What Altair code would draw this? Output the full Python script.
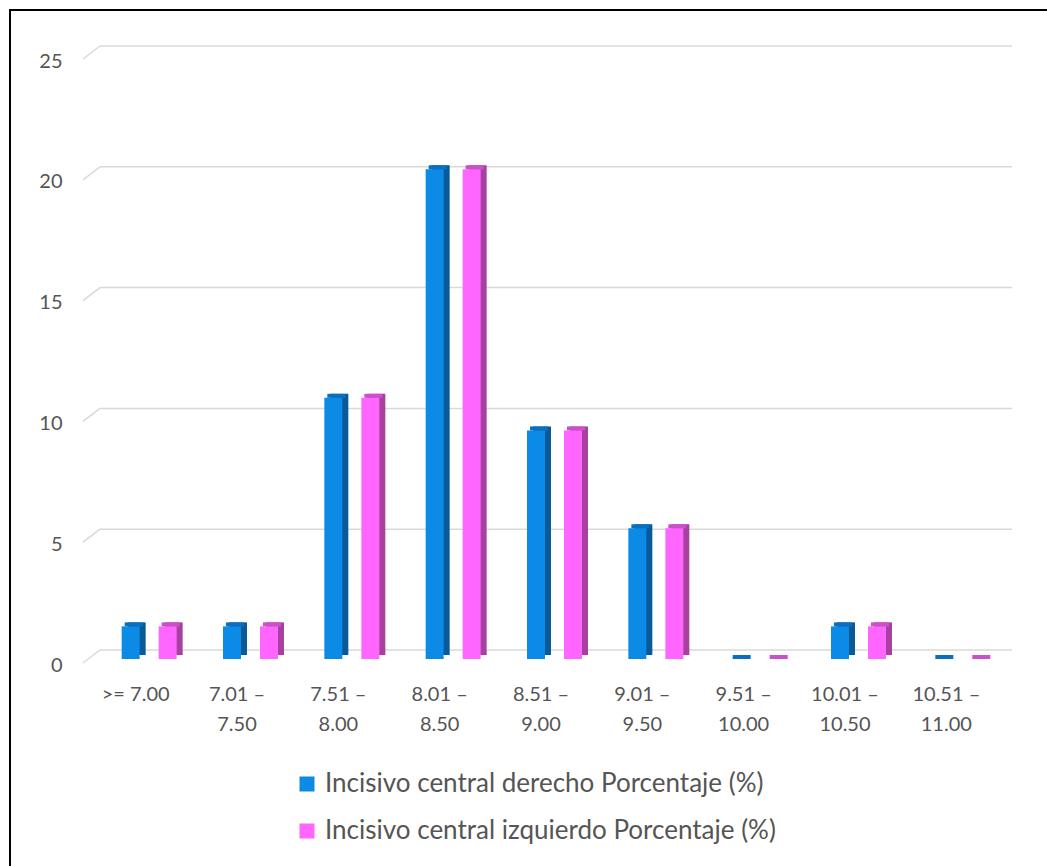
import altair as alt
import pandas as pd

# Width classes of the central incisors (mm) and share of cases (%)
categories = [
    ">= 7.00",
    "7.01 –\n7.50",
    "7.51 –\n8.00",
    "8.01 –\n8.50",
    "8.51 –\n9.00",
    "9.01 –\n9.50",
    "9.51 –\n10.00",
    "10.01 –\n10.50",
    "10.51 –\n11.00",
]
derecho = [1.35, 1.35, 10.81, 20.27, 9.46, 5.41, 0, 1.35, 0]
izquierdo = [1.35, 1.35, 10.81, 20.27, 9.46, 5.41, 0, 1.35, 0]
series_names = [
    "Incisivo central derecho Porcentaje (%)",
    "Incisivo central izquierdo Porcentaje (%)",
]
y_ticks = [0, 5, 10, 15, 20, 25]

front_colors = ["#0B8AE6", "#FF66FF"]
side_colors = ["#085A98", "#A8409F"]
top_colors = ["#0A70BE", "#C850C8"]
bar_shift = [-19, 18]

FONT = "Lato"
TEXT = "#555555"
GRID = "#D9D9D9"

rows = []
for name, vals in zip(series_names, [derecho, izquierdo]):
    for cat, v in zip(categories, vals):
        rows.append({"rango": cat, "serie": name, "valor": v})
df = pd.DataFrame(rows)
ticks_df = pd.DataFrame({"v": y_ticks})

W, H = 912, 604
y_scale = alt.Scale(domain=[0, 25], nice=False)
x_scale = alt.Scale(paddingInner=0, paddingOuter=0)

# outer frame of the figure
frame = alt.Chart(pd.DataFrame({"k": [0]})).mark_rect(
    fill=None, stroke="black", strokeWidth=2
).encode(
    x=alt.value(-89), x2=alt.value(970), y=alt.value(-45), y2=alt.value(840)
)

# back-wall gridlines
grid_back = alt.Chart(ticks_df).mark_rule(
    color=GRID, strokeWidth=1.5, yOffset=-9
).encode(
    x=alt.value(1), x2=alt.value(913),
    y=alt.Y("v:Q", scale=y_scale,
            axis=alt.Axis(values=y_ticks, domain=False, ticks=False, grid=False,
                          labelPadding=37, labelOffset=6, labelFont=FONT,
                          labelFontSize=20, labelColor=TEXT),
            title=None),
)

# floor edge of each gridline (perspective segment)
grid_side = alt.Chart(ticks_df).mark_rule(
    color=GRID, strokeWidth=1.5, yOffset=4, y2Offset=-9
).encode(
    x=alt.value(-16), x2=alt.value(1),
    y=alt.Y("v:Q", scale=y_scale, title=None), y2="v:Q",
)

x_enc = alt.X(
    "rango:N", sort=categories, scale=x_scale, title=None,
    axis=alt.Axis(labelAngle=0, domain=False, ticks=False, labelPadding=25,
                  labelOffset=-14, labelFont=FONT, labelFontSize=20,
                  labelColor=TEXT, labelLineHeight=30,
                  labelExpr="split(datum.label, '\\n')"),
)

layers = [frame, grid_back, grid_side]
for i, name in enumerate(series_names):
    base = alt.Chart(df).transform_filter(alt.datum.serie == name)
    side = base.mark_bar(
        width=18, xOffset=bar_shift[i] + 6, yOffset=-4, y2Offset=0,
        color=side_colors[i]
    ).encode(x=x_enc, y=alt.Y("valor:Q", scale=y_scale, title=None))
    top = base.mark_bar(
        width=18, xOffset=bar_shift[i] + 3, yOffset=-4, color=top_colors[i]
    ).encode(
        x=x_enc, y=alt.Y("valor:Q", scale=y_scale, title=None), y2="valor:Q"
    )
    front = base.mark_bar(width=18, xOffset=bar_shift[i]).encode(
        x=x_enc,
        y=alt.Y("valor:Q", scale=y_scale, title=None),
        color=alt.Color(
            "serie:N",
            scale=alt.Scale(domain=series_names, range=front_colors),
            legend=alt.Legend(
                title=None, orient="none", legendX=195, legendY=716,
                direction="vertical", symbolType="square", symbolSize=225,
                symbolStrokeWidth=0, labelFont=FONT, labelFontSize=26,
                labelColor=TEXT, labelOffset=5, rowPadding=21, labelLimit=0,
            ),
        ),
    )
    layers += [side, top, front]

chart = alt.layer(*layers).properties(
    width=W, height=H,
    padding={"left": 99, "top": 55, "right": 36, "bottom": 207},
    autosize=alt.AutoSizeParams(type="none"),
    background="white",
).configure_view(stroke=None)

chart.save("out.html", embed_options={"renderer": "svg", "actions": False})
